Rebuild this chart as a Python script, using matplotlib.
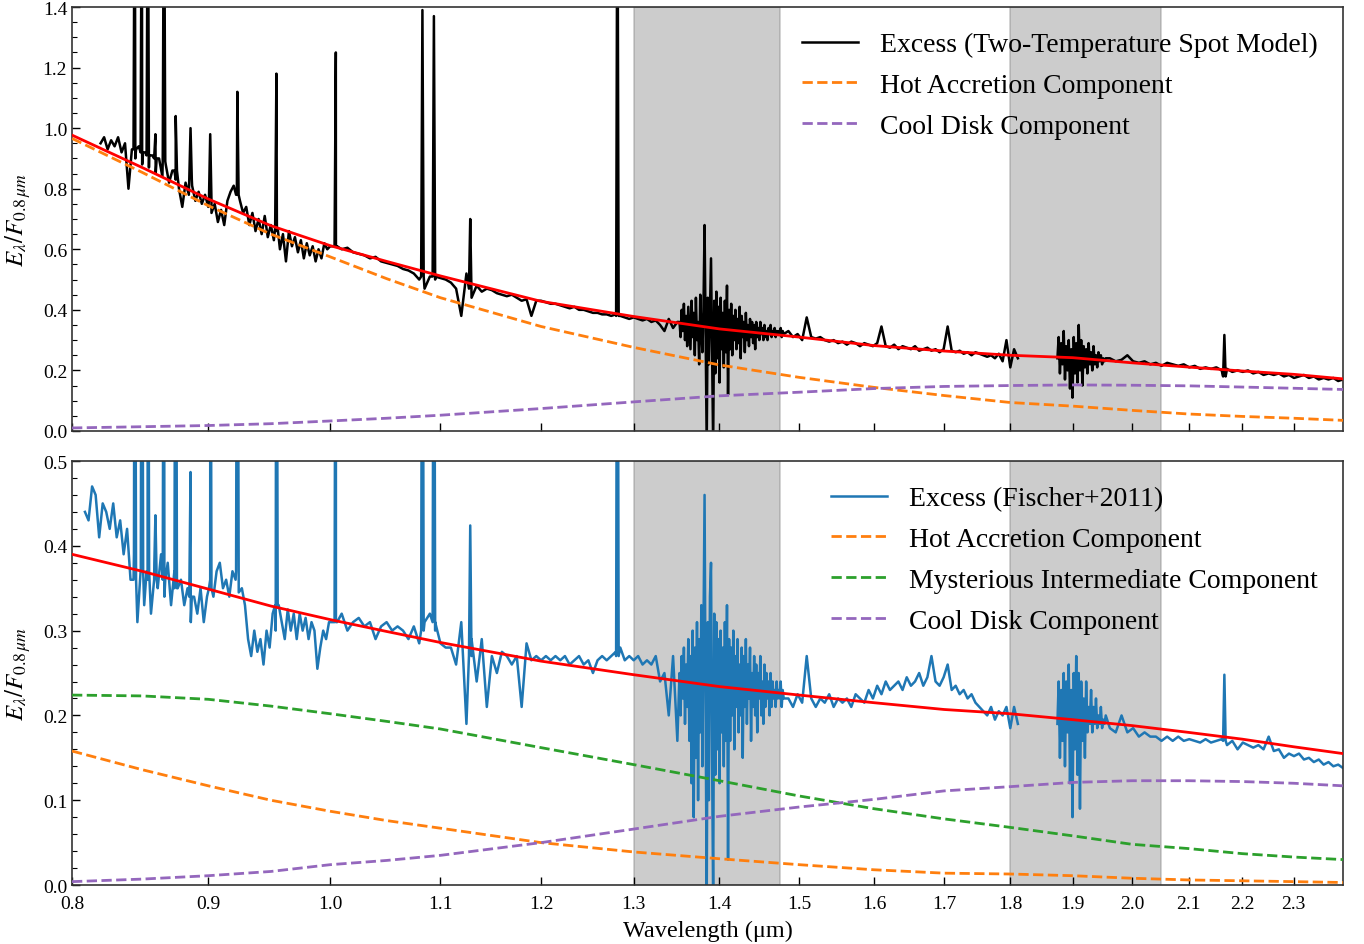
import numpy as np
import matplotlib
matplotlib.use("Agg")
import matplotlib.pyplot as plt
from matplotlib.ticker import MultipleLocator, NullLocator, FixedLocator, FixedFormatter

plt.rcParams['font.family'] = ['Liberation Serif', 'DejaVu Serif']
plt.rcParams['mathtext.fontset'] = 'stix'

# ---------------- data ----------------
# model curves (read at sample wavelengths)
model_wl = [0.80, 0.85, 0.90, 0.95, 1.00, 1.05, 1.10, 1.20, 1.30, 1.40, 1.50, 1.60, 1.70, 1.80, 1.90, 2.00, 2.10, 2.20, 2.30, 2.40]
fit_top = [0.977, 0.870, 0.766, 0.678, 0.612, 0.560, 0.512, 0.428, 0.378, 0.337, 0.310, 0.282, 0.264, 0.250, 0.242, 0.225, 0.211, 0.198, 0.187, 0.172]
hot_top = [0.966, 0.854, 0.744, 0.650, 0.575, 0.503, 0.440, 0.345, 0.276, 0.218, 0.177, 0.144, 0.117, 0.094, 0.082, 0.068, 0.056, 0.048, 0.042, 0.035]
cool_top = [0.010, 0.014, 0.018, 0.024, 0.033, 0.042, 0.052, 0.074, 0.096, 0.116, 0.128, 0.140, 0.147, 0.150, 0.152, 0.151, 0.149, 0.145, 0.141, 0.137]

fit_bot = [0.390, 0.370, 0.349, 0.329, 0.313, 0.299, 0.286, 0.264, 0.248, 0.234, 0.224, 0.215, 0.207, 0.202, 0.195, 0.188, 0.180, 0.172, 0.163, 0.155]
hot_bot = [0.158, 0.136, 0.117, 0.100, 0.087, 0.076, 0.067, 0.050, 0.039, 0.031, 0.024, 0.018, 0.014, 0.013, 0.011, 0.008, 0.006, 0.005, 0.004, 0.003]
mid_bot = [0.224, 0.223, 0.219, 0.211, 0.202, 0.193, 0.184, 0.162, 0.142, 0.123, 0.105, 0.090, 0.078, 0.068, 0.058, 0.048, 0.043, 0.037, 0.033, 0.030]
cool_bot = [0.004, 0.007, 0.011, 0.016, 0.024, 0.029, 0.035, 0.050, 0.066, 0.081, 0.092, 0.101, 0.111, 0.116, 0.121, 0.123, 0.123, 0.122, 0.120, 0.117]

# spectrum segments: (start, end) wavelengths; None marks the telluric gap
seg_ranges_top = [(0.820, 1.000), (1.005, 1.350), (1.3525, 1.480), (1.486, 1.812), None, (1.875, 1.955), (1.962, 2.400)]
flux_top_A1 = [0.95, 0.97, 0.93, 0.96, 0.94, 0.97, 0.92, 0.95, 0.80, 0.93, 0.90, 0.94, 0.88, 0.92, 0.87, 0.91,
               0.85, 0.90, 0.84, 0.88, 0.82, 0.86, 0.83, 0.80, 0.74, 0.82, 0.78, 0.81, 0.76, 0.79, 0.75, 0.78,
               0.74, 0.72, 0.75, 0.69, 0.73, 0.68, 0.76, 0.79, 0.81, 0.78, 0.76, 0.72, 0.74, 0.68, 0.72, 0.66,
               0.70, 0.65, 0.71, 0.64, 0.68, 0.63, 0.66, 0.60, 0.65, 0.56, 0.66, 0.61, 0.64, 0.59, 0.63, 0.57,
               0.62, 0.58, 0.61, 0.56, 0.60, 0.57, 0.62, 0.60, 0.61]
flux_top_A2 = [0.61, 0.60, 0.605, 0.59, 0.585, 0.58, 0.57, 0.575, 0.56, 0.555, 0.55, 0.545, 0.535, 0.53, 0.52,
               0.50, 0.47, 0.51, 0.50, 0.505, 0.50, 0.49, 0.47, 0.38, 0.52, 0.44, 0.48, 0.46, 0.47, 0.465,
               0.455, 0.45, 0.445, 0.45, 0.44, 0.43, 0.435, 0.38, 0.43, 0.43, 0.425, 0.42, 0.42, 0.415, 0.41,
               0.405, 0.41, 0.40, 0.40, 0.395, 0.39, 0.39, 0.385, 0.385, 0.38, 0.385, 0.38, 0.375, 0.37, 0.375,
               0.37, 0.365, 0.37, 0.36, 0.365, 0.35, 0.33, 0.37, 0.34, 0.36]
flux_top_B = [0.36, 0.31, 0.40, 0.33, 0.42, 0.30, 0.38, 0.28, 0.41, 0.34, 0.27, 0.43, 0.31, 0.39, 0.25, 0.44,
              0.30, 0.36, 0.22, 0.45, 0.33, 0.26, 0.41, 0.68, 0.30, -0.05, 0.44, 0.22, 0.40, 0.57, 0.25, -0.05,
              0.43, 0.19, 0.46, 0.24, 0.41, 0.16, 0.44, 0.27, 0.39, 0.21, 0.43, 0.26, 0.48, 0.12, 0.40, 0.27,
              0.42, 0.25, 0.38, 0.30, 0.40, 0.27, 0.37, 0.29, 0.41, 0.24, 0.38, 0.31, 0.36, 0.26, 0.39, 0.30,
              0.35, 0.28, 0.37, 0.31, 0.36, 0.29, 0.35, 0.27, 0.36, 0.31, 0.34, 0.30, 0.36, 0.32, 0.34, 0.30,
              0.35, 0.31, 0.33, 0.30, 0.34, 0.32, 0.35, 0.31, 0.33, 0.32, 0.34, 0.31, 0.33, 0.32, 0.33, 0.32,
              0.34, 0.31, 0.33, 0.32]
flux_top_C = [0.33, 0.31, 0.32, 0.30, 0.375, 0.31, 0.305, 0.31, 0.30, 0.295, 0.30, 0.29, 0.295, 0.285, 0.295,
              0.29, 0.28, 0.29, 0.285, 0.28, 0.29, 0.345, 0.28, 0.275, 0.285, 0.27, 0.28, 0.275, 0.27, 0.28,
              0.265, 0.27, 0.275, 0.265, 0.27, 0.26, 0.27, 0.345, 0.265, 0.26, 0.265, 0.255, 0.26, 0.25, 0.26,
              0.255, 0.25, 0.245, 0.25, 0.24, 0.255, 0.23, 0.30, 0.21, 0.27, 0.24]
flux_top_D = [0.24, 0.31, 0.19, 0.29, 0.22, 0.33, 0.17, 0.28, 0.20, 0.30, 0.14, 0.27, 0.11, 0.31, 0.19, 0.29,
              0.16, 0.35, 0.20, 0.30, 0.15, 0.28, 0.21, 0.27, 0.19, 0.29, 0.22, 0.26, 0.20, 0.28, 0.22, 0.25,
              0.21, 0.26, 0.23, 0.25, 0.22, 0.24, 0.23, 0.24]
flux_top_E = [0.24, 0.23, 0.235, 0.25, 0.23, 0.225, 0.23, 0.22, 0.225, 0.215, 0.225, 0.22, 0.215, 0.22, 0.21,
              0.215, 0.205, 0.21, 0.205, 0.21, 0.20, 0.205, 0.195, 0.20, 0.195, 0.20, 0.19, 0.195, 0.185,
              0.19, 0.185, 0.19, 0.18, 0.185, 0.175, 0.18, 0.185, 0.175, 0.18, 0.17, 0.175, 0.17, 0.175,
              0.165, 0.17]

seg_ranges_bot = [(0.809, 0.999), (1.005, 1.350), (1.3525, 1.480), (1.486, 1.812), None, (1.875, 1.955), (1.962, 2.400)]
flux_bot_A1 = [0.44, 0.43, 0.47, 0.46, 0.41, 0.45, 0.44, 0.42, 0.45, 0.41, 0.43, 0.39, 0.42, 0.36, 0.39, 0.31,
               0.37, 0.33, 0.36, 0.32, 0.38, 0.35, 0.39, 0.34, 0.38, 0.33, 0.37, 0.35, 0.36, 0.33, 0.35, 0.31,
               0.34, 0.32, 0.35, 0.31, 0.34, 0.36, 0.34, 0.37, 0.38, 0.35, 0.36, 0.34, 0.37, 0.36, 0.345, 0.35,
               0.33, 0.29, 0.27, 0.30, 0.275, 0.29, 0.26, 0.30, 0.28, 0.32, 0.30, 0.33, 0.31, 0.29, 0.325, 0.30,
               0.32, 0.29, 0.32, 0.30, 0.315, 0.29, 0.31, 0.30, 0.255, 0.28, 0.30, 0.29, 0.31]
flux_bot_A2 = [0.31, 0.32, 0.30, 0.31, 0.315, 0.305, 0.31, 0.29, 0.305, 0.31, 0.30, 0.305, 0.30, 0.29, 0.305,
               0.285, 0.31, 0.32, 0.30, 0.285, 0.28, 0.28, 0.26, 0.31, 0.19, 0.29, 0.24, 0.29, 0.21, 0.27, 0.25,
               0.275, 0.27, 0.26, 0.27, 0.21, 0.285, 0.265, 0.27, 0.265, 0.27, 0.265, 0.27, 0.265, 0.27, 0.26,
               0.265, 0.27, 0.26, 0.265, 0.25, 0.265, 0.27, 0.265, 0.27, 0.275, 0.28, 0.265, 0.27, 0.265, 0.27,
               0.26, 0.265, 0.26, 0.27, 0.24, 0.25, 0.20, 0.27, 0.17]
flux_bot_B = [0.25, 0.20, 0.27, 0.22, 0.28, 0.19, 0.26, 0.21, 0.29, 0.17, 0.27, 0.12, 0.30, 0.08, 0.28, 0.15,
              0.31, 0.10, 0.29, 0.18, 0.33, 0.14, 0.30, 0.46, 0.20, -0.02, 0.31, 0.10, 0.34, 0.38, 0.15, -0.02,
              0.32, 0.13, 0.31, 0.16, 0.29, 0.12, 0.30, 0.18, 0.28, 0.14, 0.31, 0.17, 0.33, 0.03, 0.29, 0.17,
              0.28, 0.20, 0.30, 0.16, 0.27, 0.21, 0.29, 0.18, 0.26, 0.20, 0.28, 0.15, 0.27, 0.21, 0.29, 0.19,
              0.26, 0.22, 0.28, 0.17, 0.25, 0.21, 0.27, 0.20, 0.26, 0.18, 0.25, 0.22, 0.27, 0.20, 0.24, 0.19,
              0.26, 0.21, 0.25, 0.22, 0.24, 0.20, 0.25, 0.21, 0.24, 0.22, 0.23, 0.21, 0.24, 0.22, 0.23, 0.22,
              0.24, 0.21, 0.23, 0.22]
flux_bot_C = [0.22, 0.21, 0.225, 0.215, 0.27, 0.22, 0.21, 0.22, 0.215, 0.225, 0.21, 0.22, 0.215, 0.22, 0.21,
              0.225, 0.22, 0.215, 0.23, 0.22, 0.235, 0.225, 0.24, 0.23, 0.235, 0.24, 0.23, 0.245, 0.235, 0.24,
              0.25, 0.235, 0.245, 0.27, 0.24, 0.235, 0.245, 0.26, 0.23, 0.235, 0.225, 0.23, 0.22, 0.225, 0.215,
              0.21, 0.205, 0.20, 0.21, 0.195, 0.205, 0.20, 0.21, 0.185, 0.21, 0.19]
flux_bot_D = [0.19, 0.24, 0.15, 0.23, 0.17, 0.25, 0.14, 0.24, 0.18, 0.26, 0.12, 0.23, 0.08, 0.25, 0.16, 0.27,
              0.13, 0.25, 0.09, 0.24, 0.17, 0.22, 0.15, 0.24, 0.18, 0.21, 0.19, 0.23, 0.18, 0.21, 0.19, 0.22,
              0.185, 0.20, 0.19, 0.21, 0.185, 0.195, 0.19, 0.20]
flux_bot_E = [0.185, 0.18, 0.20, 0.18, 0.185, 0.175, 0.18, 0.175, 0.175, 0.17, 0.175, 0.17, 0.175, 0.17, 0.172,
              0.17, 0.168, 0.172, 0.168, 0.17, 0.172, 0.165, 0.17, 0.16, 0.168, 0.165, 0.162, 0.165, 0.16,
              0.175, 0.158, 0.16, 0.15, 0.155, 0.152, 0.155, 0.148, 0.15, 0.145, 0.148, 0.142, 0.145, 0.14,
              0.142, 0.138]

# emission lines: centre wavelength, peak, local continuum
line_wl = [0.8446, 0.8498, 0.8542, 0.8598, 0.8662, 0.8750, 0.8863, 0.9015, 0.9229, 0.9546, 1.0049, 1.0830, 1.0938, 1.1287, 1.2818, 2.1661]
line_peak_top = [2.0, 2.0, 2.0, 0.98, 2.0, 1.04, 1.00, 0.98, 1.12, 1.18, 1.25, 1.39, 1.37, 0.70, 2.0, 0.317]
line_base_top = [0.93, 0.92, 0.91, 0.90, 0.89, 0.86, 0.83, 0.76, 0.78, 0.67, 0.61, 0.51, 0.51, 0.47, 0.38, 0.18]
line_peak_bot = [1.0, 1.0, 1.0, 0.436, 1.0, 1.0, 0.487, 1.0, 1.0, 1.0, 1.0, 1.0, 1.0, 0.424, 1.0, 0.248]
line_base_bot = [0.36, 0.37, 0.37, 0.36, 0.36, 0.35, 0.34, 0.35, 0.37, 0.33, 0.31, 0.30, 0.31, 0.27, 0.27, 0.17]

shade_regions = [(1.30, 1.475), (1.80, 2.05)]
xticks = [0.8, 0.9, 1.0, 1.1, 1.2, 1.3, 1.4, 1.5, 1.6, 1.7, 1.8, 1.9, 2.0, 2.1, 2.2, 2.3]


def build_spectrum(ranges, segs, peaks, bases):
    wl, fl = [], []
    it = iter(segs)
    prev_end = None
    for r in ranges:
        if r is None:
            wl.append(prev_end + 0.01)
            fl.append(np.nan)
            continue
        vals = next(it)
        wl.extend(np.linspace(r[0], r[1], len(vals)))
        fl.extend(vals)
        prev_end = r[1]
    for c, p, base in zip(line_wl, peaks, bases):
        dw = c * 0.0011
        wl.extend([c - dw, c, c + dw])
        fl.extend([base, p, base])
    wl = np.array(wl)
    fl = np.array(fl)
    o = np.argsort(wl)
    return wl[o], fl[o]


wl_top, sp_top = build_spectrum(seg_ranges_top,
                                [flux_top_A1, flux_top_A2, flux_top_B, flux_top_C, flux_top_D, flux_top_E],
                                line_peak_top, line_base_top)
wl_bot, sp_bot = build_spectrum(seg_ranges_bot,
                                [flux_bot_A1, flux_bot_A2, flux_bot_B, flux_bot_C, flux_bot_D, flux_bot_E],
                                line_peak_bot, line_base_bot)

# ---------------- figure ----------------
fig = plt.figure(figsize=(13.64, 9.45), dpi=100)
ax1 = fig.add_axes([0.0528, 0.5429, 0.9318, 0.4486])
ax2 = fig.add_axes([0.0528, 0.0624, 0.9318, 0.4487])

C_ORANGE = '#ff7f0e'
C_GREEN = '#2ca02c'
C_PURPLE = '#9467bd'
C_BLUE = '#1f77b4'
lw_dash = 2.0

for a, b in shade_regions:
    ax1.axvspan(a, b, color='gray', alpha=0.4, lw=1.2, zorder=0)
    ax2.axvspan(a, b, color='gray', alpha=0.4, lw=1.2, zorder=0)

ax1.plot(wl_top, sp_top, color='black', lw=1.8, label='Excess (Two-Temperature Spot Model)', zorder=2)
ax1.plot(model_wl, hot_top, color=C_ORANGE, ls='--', lw=lw_dash, label='Hot Accretion Component', zorder=3)
ax1.plot(model_wl, cool_top, color=C_PURPLE, ls='--', lw=lw_dash, label='Cool Disk Component', zorder=3)
ax1.plot(model_wl, fit_top, color='red', lw=2.0, zorder=4)

ax2.plot(wl_bot, sp_bot, color=C_BLUE, lw=1.8, label='Excess (Fischer+2011)', zorder=2)
ax2.plot(model_wl, hot_bot, color=C_ORANGE, ls='--', lw=lw_dash, label='Hot Accretion Component', zorder=3)
ax2.plot(model_wl, mid_bot, color=C_GREEN, ls='--', lw=lw_dash, label='Mysterious Intermediate Component', zorder=3)
ax2.plot(model_wl, cool_bot, color=C_PURPLE, ls='--', lw=lw_dash, label='Cool Disk Component', zorder=3)
ax2.plot(model_wl, fit_bot, color='red', lw=2.0, zorder=4)

for ax in (ax1, ax2):
    ax.set_xscale('log')
    ax.set_xlim(0.8, 2.4)
    ax.xaxis.set_major_locator(FixedLocator(xticks))
    ax.xaxis.set_major_formatter(FixedFormatter([f'{t:.1f}' for t in xticks]))
    ax.xaxis.set_minor_locator(NullLocator())
    ax.tick_params(axis='both', which='both', direction='in', top=False, right=False, labelsize=14)
    ax.tick_params(axis='x', pad=7)
    ax.tick_params(which='major', length=6, width=1)
    ax.tick_params(which='minor', length=3.5, width=0.8)
    for s in ax.spines.values():
        s.set_color('#333333')
        s.set_linewidth(1.2)
    ax.set_ylabel(r'$E_\lambda/F_{0.8\,\mu m}$', fontsize=18)
    ax.legend(loc='upper right', frameon=False, fontsize=20, handlelength=2.0, labelspacing=0.55)

ax1.set_ylim(0, 1.4)
ax1.yaxis.set_major_locator(MultipleLocator(0.2))
ax1.yaxis.set_minor_locator(MultipleLocator(0.05))
ax1.tick_params(axis='x', labelbottom=False)

ax2.set_ylim(0, 0.5)
ax2.yaxis.set_major_locator(MultipleLocator(0.1))
ax2.yaxis.set_minor_locator(MultipleLocator(0.02))
ax2.set_xlabel('Wavelength (μm)', fontsize=17.5, labelpad=6)

ax1.yaxis.set_label_coords(-0.031, 0.5)
ax2.yaxis.set_label_coords(-0.031, 0.5)

fig.savefig('out.png', dpi=100)
